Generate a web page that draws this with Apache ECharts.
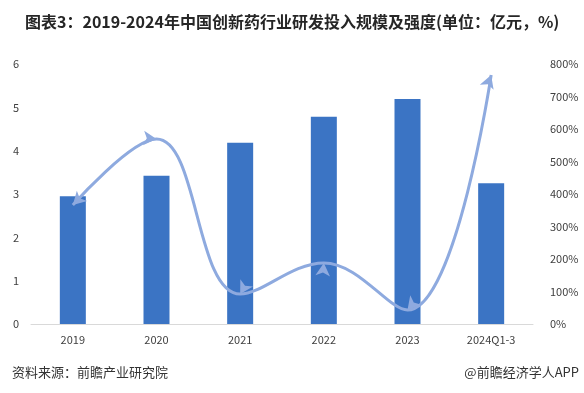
<!DOCTYPE html>
<html><head><meta charset="utf-8">
<script src="https://cdn.jsdelivr.net/npm/echarts@6/dist/echarts.min.js"></script>
<style>html,body{margin:0;padding:0;background:#fff}#c{width:584px;height:393px}</style>
</head><body><div id="c"></div>
<script>
const categories = ['2019','2020','2021','2022','2023','2024Q1-3'];
const rdInvestment = [2.95, 3.42, 4.18, 4.78, 5.19, 3.25];
const rdIntensity = [366, 569, 92, 188, 43, 766];
const arrowRotate = [135, -95, 150, -5, 140, -20];
const leftTicks = [0, 6, 1];
const rightTicks = [0, 800, 100];

const chart = echarts.init(document.getElementById('c'), null, {renderer:'canvas'});
const font = '"Microsoft YaHei","Noto Sans CJK SC",sans-serif';
chart.setOption({
  animation:false,
  textStyle:{fontFamily:font},
  title:[
    {text:'图表3：2019-2024年中国创新药行业研发投入规模及强度(单位：亿元，%)', left:20, top:9,
     textStyle:{fontSize:16, fontWeight:'bold', color:'#262626', fontFamily:font}},
    {text:'资料来源：前瞻产业研究院', left:7, top:361, textStyle:{fontSize:13, fontWeight:'normal', color:'#333', fontFamily:font}},
    {text:'@前瞻经济学人APP', right:0, top:361, textStyle:{fontSize:13, fontWeight:'normal', color:'#333', fontFamily:font}}
  ],
  grid:{left:31, right:51, top:64, bottom:69},
  xAxis:{type:'category', data:categories,
    axisLine:{lineStyle:{color:'#d9d9d9'}}, axisTick:{show:false},
    axisLabel:{color:'#404040', fontSize:11, margin:10}},
  yAxis:[
    {type:'value', min:leftTicks[0], max:leftTicks[1], interval:leftTicks[2],
     splitLine:{show:false}, axisLine:{show:false}, axisTick:{show:false},
     axisLabel:{color:'#404040', fontSize:11, margin:12}},
    {type:'value', min:rightTicks[0], max:rightTicks[1], interval:rightTicks[2],
     splitLine:{show:false}, axisLine:{show:false}, axisTick:{show:false},
     axisLabel:{color:'#404040', fontSize:11, margin:17, formatter:'{value}%'}}
  ],
  series:[
    {type:'bar', data:rdInvestment, barWidth:26, itemStyle:{color:'#3b74c4'}},
    {type:'line', yAxisIndex:1, smooth:0.4,
     data:rdIntensity.map((v,i)=>({value:v, symbolRotate:arrowRotate[i]})),
     symbol:'arrow', symbolSize:[11,13], lineStyle:{color:'#8eaadf', width:3},
     itemStyle:{color:'#8eaadf'}}
  ]
});
</script></body></html>
